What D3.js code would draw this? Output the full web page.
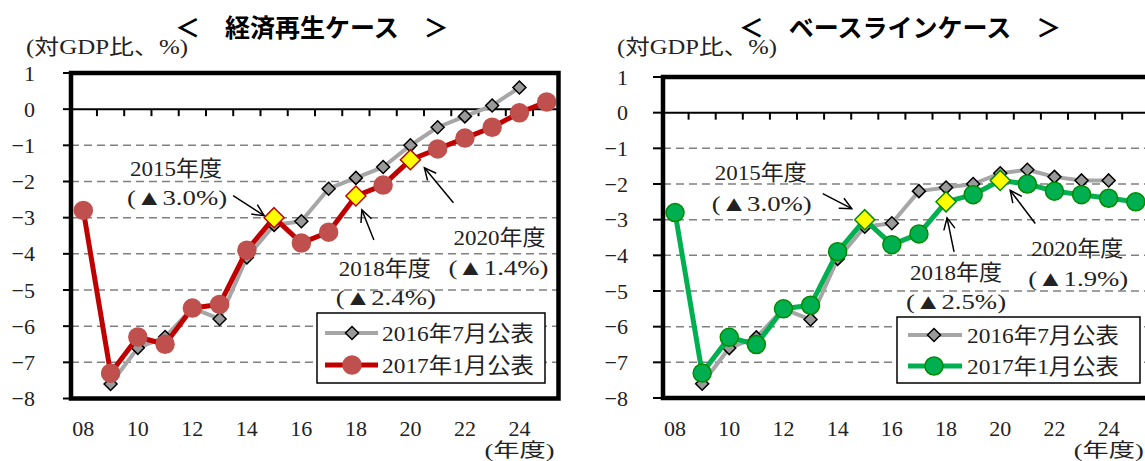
<!DOCTYPE html>
<html><head><meta charset="utf-8">
<script src="https://cdn.jsdelivr.net/npm/d3@7"></script>
<style>
body{margin:0;background:#fff;}
text{font-family:"Liberation Serif","Noto Sans CJK JP",serif;fill:#222;}
</style></head>
<body>
<svg id="chart" width="1145" height="461"></svg>
<script>
// ---------- data ----------
const years = ["08","09","10","11","12","13","14","15","16","17","18","19","20","21","22","23","24","25"];
const xTickLabels = ["08","10","12","14","16","18","20","22","24"];
const yTicks = [1,0,-1,-2,-3,-4,-5,-6,-7,-8];
const seriesNames = ["2016年7月公表","2017年1月公表"];
const revival2016  = [null,-7.6,-6.6,-6.3,-5.5,-5.8,-4.1,-3.2,-3.1,-2.2,-1.9,-1.6,-1.0,-0.5,-0.2,0.1,0.6,null];
const revival2017  = [-2.8,-7.3,-6.3,-6.5,-5.5,-5.4,-3.9,-3.0,-3.7,-3.4,-2.4,-2.1,-1.4,-1.1,-0.8,-0.5,-0.1,0.2];
const baseline2016 = [null,-7.6,-6.6,-6.3,-5.5,-5.8,-4.1,-3.2,-3.1,-2.2,-2.1,-2.0,-1.7,-1.6,-1.8,-1.9,-1.9,null];
const baseline2017 = [-2.8,-7.3,-6.3,-6.5,-5.5,-5.4,-3.9,-3.0,-3.7,-3.4,-2.5,-2.3,-1.9,-2.0,-2.2,-2.3,-2.4,-2.5];
const highlightYears = ["15","18","20"];
const revivalNotes  = [["2015年度","(▲3.0%)"],["2018年度","(▲2.4%)"],["2020年度","(▲1.4%)"]];
const baselineNotes = [["2015年度","(▲3.0%)"],["2018年度","(▲2.5%)"],["2020年度","(▲1.9%)"]];

// ---------- layout ----------
const svg = d3.select("#chart");

const panels = [
  {
    title:"＜　経済再生ケース　＞", titleX:312, titleY:26,
    unitX:26, unitW:162,
    s16:revival2016, s17:revival2017, notes:revivalNotes,
    xRange:[69.7,560.3], yRange:[398.5,73], boxX:[71,558.5],
    yLabelX:35, tickX0:63,
    lineColor:"#c00000", dotFill:"#c0504d", dotStroke:"#c0504d", hlStroke:"#c00000",
    legend:{x0:317,y0:313,x1:545,y1:383,row1:333,row2:365,lx0:325,lx1:378,mx:352,tx:382},
    noteCfg:[
      {text:[-98,-49],text2:[-97,-20],tail:[-41,-22],tip:[-10,-2]},
      {text:[29,73],text2:[30,102],tail:[18,44],tip:[6,14]},
      {text:[89,78],text2:[88,108],tail:[43,43],tip:[14,8]}
    ]
  },
  {
    title:"＜　ベースラインケース　＞", titleX:900, titleY:26,
    unitX:617, unitW:160,
    s16:baseline2016, s17:baseline2017, notes:baselineNotes,
    xRange:[661.5,1149.3], yRange:[398,77], boxX:[663,1149],
    yLabelX:628, tickX0:653,
    lineColor:"#00b050", dotFill:"#00b050", dotStroke:"#008a00", hlStroke:"#008a00",
    legend:{x0:897,y0:317,x1:1140,y1:383,row1:335,row2:366,lx0:908,lx1:962,mx:934,tx:967},
    noteCfg:[
      {text:[-104,-47],text2:[-103,-16],tail:[-42,-26],tip:[-13,-11]},
      {text:[10,71],text2:[10,100],tail:[8,50],tip:[1,16]},
      {text:[77,68],text2:[78,98],tail:[35,43],tip:[10,10]}
    ]
  }
];

function diamond(h){ return `M0,${-h}L${h},0L0,${h}L${-h},0Z`; }

function arrow(g, x1,y1,x2,y2){
  g.append("line").attr("x1",x1).attr("y1",y1).attr("x2",x2).attr("y2",y2)
    .attr("stroke","#000").attr("stroke-width",1.5);
  const a = Math.atan2(y2-y1,x2-x1), L=13, w=0.45;
  const p = [[x2-L*Math.cos(a-w), y2-L*Math.sin(a-w)],[x2,y2],[x2-L*Math.cos(a+w), y2-L*Math.sin(a+w)]];
  g.append("path").attr("d","M"+p.map(d=>d.join(",")).join("L"))
    .attr("fill","none").attr("stroke","#000").attr("stroke-width",1.5);
}

panels.forEach(P=>{
  const g = svg.append("g");
  const xb = d3.scaleBand().domain(years).range(P.xRange);
  const bw = xb.bandwidth();
  const x = d => xb(d)+bw/2;
  const y = d3.scaleLinear().domain([-8,1]).range(P.yRange);

  // title & unit
  g.append("text").attr("x",P.titleX).attr("y",P.titleY).attr("text-anchor","middle")
    .attr("dominant-baseline","central")
    .style("font-family","'Noto Sans CJK JP',sans-serif").style("font-weight","bold")
    .style("font-size","25px").style("fill","#000").text(P.title);
  g.append("text").attr("x",P.unitX).attr("y",47).attr("dominant-baseline","central")
    .attr("textLength",P.unitW).attr("lengthAdjust","spacingAndGlyphs")
    .style("font-size","21px").text("(対GDP比、%)");

  // grid
  g.selectAll(".grid").data(yTicks.filter(v=>v<0 && v>-8)).enter().append("line")
    .attr("x1",P.boxX[0]).attr("x2",P.boxX[1]).attr("y1",d=>y(d)).attr("y2",d=>y(d))
    .attr("stroke","#808080").attr("stroke-width",1.5).attr("stroke-dasharray","8,5");

  // zero line + ticks
  g.append("line").attr("x1",P.boxX[0]).attr("x2",P.boxX[1]).attr("y1",y(0)).attr("y2",y(0))
    .attr("stroke","#000").attr("stroke-width",2);
  g.selectAll(".xt").data(years.slice(1)).enter().append("line")
    .attr("x1",d=>xb(d)).attr("x2",d=>xb(d)).attr("y1",y(0)).attr("y2",y(0)+7)
    .attr("stroke","#000").attr("stroke-width",2);

  // y ticks + labels
  g.selectAll(".yt").data(yTicks).enter().append("line")
    .attr("x1",P.tickX0).attr("x2",P.boxX[0]).attr("y1",d=>y(d)).attr("y2",d=>y(d))
    .attr("stroke","#000").attr("stroke-width",2);
  g.selectAll(".yl").data(yTicks).enter().append("text")
    .attr("x",P.yLabelX).attr("y",d=>y(d)).attr("text-anchor","end").attr("dominant-baseline","central")
    .style("font-size","22px").text(d=> d<0 ? "−"+Math.abs(d) : d);

  // x labels
  g.selectAll(".xl").data(xTickLabels).enter().append("text")
    .attr("x",d=>x(d)).attr("y",428).attr("text-anchor","middle").attr("dominant-baseline","central")
    .style("font-size","22px").text(d=>d);
  g.append("text").attr("x",x("24")).attr("y",450.5).attr("text-anchor","middle").attr("dominant-baseline","central")
    .attr("textLength",70).attr("lengthAdjust","spacingAndGlyphs")
    .style("font-size","19px").text("(年度)");

  // series 2016
  const line = d3.line().defined(d=>d.v!=null).x(d=>x(d.k)).y(d=>y(d.v));
  const d16 = years.map((k,i)=>({k,v:P.s16[i]}));
  const d17 = years.map((k,i)=>({k,v:P.s17[i]}));
  g.append("path").datum(d16).attr("d",line).attr("fill","none")
    .attr("stroke","#a6a6a6").attr("stroke-width",4).attr("stroke-linejoin","round");
  g.selectAll(".m16").data(d16.filter(d=>d.v!=null)).enter().append("path")
    .attr("d",diamond(6.5)).attr("transform",d=>`translate(${x(d.k)},${y(d.v)})`)
    .attr("fill","#999").attr("stroke","#000").attr("stroke-width",1.5);

  // series 2017
  g.append("path").datum(d17).attr("d",line).attr("fill","none")
    .attr("stroke",P.lineColor).attr("stroke-width",5).attr("stroke-linejoin","round");
  g.selectAll(".m17").data(d17.filter(d=>!highlightYears.includes(d.k))).enter().append("circle")
    .attr("cx",d=>x(d.k)).attr("cy",d=>y(d.v)).attr("r",9)
    .attr("fill",P.dotFill).attr("stroke",P.dotStroke).attr("stroke-width",1.5);
  g.selectAll(".hl").data(d17.filter(d=>highlightYears.includes(d.k))).enter().append("path")
    .attr("d",diamond(10)).attr("transform",d=>`translate(${x(d.k)},${y(d.v)})`)
    .attr("fill","#ffff00").attr("stroke",P.hlStroke).attr("stroke-width",1.5);

  // plot border
  g.append("rect").attr("x",P.boxX[0]).attr("y",y(1)).attr("width",P.boxX[1]-P.boxX[0])
    .attr("height",y(-8)-y(1)).attr("fill","none").attr("stroke","#000").attr("stroke-width",4.5);

  // annotations
  highlightYears.forEach((k,i)=>{
    const v = P.s17[years.indexOf(k)];
    const px = x(k), py = y(v), c = P.noteCfg[i], n = P.notes[i];
    g.append("text").attr("x",px+c.text[0]).attr("y",py+c.text[1]).attr("text-anchor","middle")
      .attr("dominant-baseline","central").attr("textLength",92).attr("lengthAdjust","spacingAndGlyphs")
      .style("font-size","22px").text(n[0]);
    g.append("text").attr("x",px+c.text2[0]).attr("y",py+c.text2[1]).attr("text-anchor","middle")
      .attr("dominant-baseline","central").attr("textLength",100).attr("lengthAdjust","spacingAndGlyphs")
      .style("font-size","22px").text(n[1]);
    arrow(g, px+c.tail[0], py+c.tail[1], px+c.tip[0], py+c.tip[1]);
  });

  // legend
  const L = P.legend;
  g.append("rect").attr("x",L.x0).attr("y",L.y0).attr("width",L.x1-L.x0).attr("height",L.y1-L.y0)
    .attr("fill","#fff").attr("stroke","#000").attr("stroke-width",1.5);
  g.append("line").attr("x1",L.lx0).attr("x2",L.lx1).attr("y1",L.row1).attr("y2",L.row1)
    .attr("stroke","#a6a6a6").attr("stroke-width",4);
  g.append("path").attr("d",diamond(6.5)).attr("transform",`translate(${L.mx},${L.row1})`)
    .attr("fill","#999").attr("stroke","#000").attr("stroke-width",1.5);
  g.append("line").attr("x1",L.lx0).attr("x2",L.lx1).attr("y1",L.row2).attr("y2",L.row2)
    .attr("stroke",P.lineColor).attr("stroke-width",5);
  g.append("circle").attr("cx",L.mx).attr("cy",L.row2).attr("r",9)
    .attr("fill",P.dotFill).attr("stroke",P.dotStroke).attr("stroke-width",1.5);
  [L.row1,L.row2].forEach((ry,i)=>{
    g.append("text").attr("x",L.tx).attr("y",ry).attr("dominant-baseline","central")
      .attr("textLength",152).attr("lengthAdjust","spacingAndGlyphs")
      .style("font-size","22px").text(seriesNames[i]);
  });
});
</script>
</body></html>
